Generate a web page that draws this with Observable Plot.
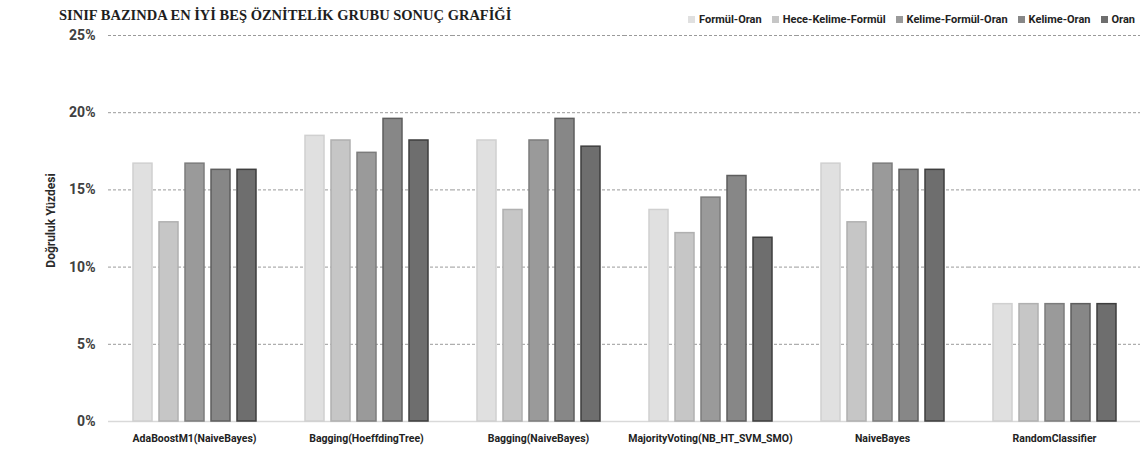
<!DOCTYPE html>
<html>
<head>
<meta charset="utf-8">
<script src="https://cdn.jsdelivr.net/npm/d3@7"></script>
<script src="https://cdn.jsdelivr.net/npm/@observablehq/plot@0.6"></script>
<style>
  body { margin: 0; background: #fff; }
  #chart { width: 1142px; height: 449px; position: relative; overflow: hidden; }
  #header { position: relative; height: 26px; }
  #title {
    position: absolute; left: 59px; top: 7px;
    font-family: "Liberation Serif", serif; font-weight: bold; font-size: 14.5px;
    color: #1e1e1e; white-space: nowrap;
  }
  #legend {
    position: absolute; right: 7px; top: 13px;
    display: flex; gap: 10px; white-space: nowrap;
    font-family: Roboto, sans-serif; font-weight: bold; font-size: 11px; color: #222;
  }
  #legend .item { display: flex; align-items: center; gap: 4px; }
  #legend .sw { width: 7px; height: 7px; display: inline-block; }
</style>
</head>
<body>
<div id="chart">
  <div id="header">
    <div id="title">SINIF BAZINDA EN İYİ BEŞ ÖZNİTELİK GRUBU SONUÇ GRAFİĞİ</div>
    <div id="legend"></div>
  </div>
</div>
<script>
// Classifiers on the horizontal axis
const models = [
  "AdaBoostM1(NaiveBayes)",
  "Bagging(HoeffdingTree)",
  "Bagging(NaiveBayes)",
  "MajorityVoting(NB_HT_SVM_SMO)",
  "NaiveBayes",
  "RandomClassifier"
];

// Feature groups (one bar per group inside each classifier)
const seriesNames = ["Formül-Oran", "Hece-Kelime-Formül", "Kelime-Formül-Oran", "Kelime-Oran", "Oran"];

// Accuracy (%) for each feature group, in the order of `models`
const formulOran       = [16.7, 18.5, 18.2, 13.7, 16.7, 7.6];
const heceKelimeFormul = [12.9, 18.2, 13.7, 12.2, 12.9, 7.6];
const kelimeFormulOran = [16.7, 17.4, 18.2, 14.5, 16.7, 7.6];
const kelimeOran       = [16.3, 19.6, 19.6, 15.9, 16.3, 7.6];
const oran             = [16.3, 18.2, 17.8, 11.9, 16.3, 7.6];

const yTicks = [0, 5, 10, 15, 20, 25];
const yLabel = "Doğruluk Yüzdesi";

const seriesValues = [formulOran, heceKelimeFormul, kelimeFormulOran, kelimeOran, oran];
const fills   = ["#e0e0e0", "#c6c6c6", "#9a9a9a", "#878787", "#6e6e6e"];
const strokes = ["#d0d0d0", "#b0b0b0", "#7c7c7c", "#5e5e5e", "#3e3e3e"];

const rows = seriesNames.flatMap((s, i) =>
  models.map((m, j) => ({model: m, series: s, value: seriesValues[i][j]}))
);

// Legend
const legend = document.getElementById("legend");
seriesNames.forEach((s, i) => {
  const item = document.createElement("span");
  item.className = "item";
  item.innerHTML = `<span class="sw" style="background:${fills[i]}"></span><span>${s}</span>`;
  legend.appendChild(item);
});

const chart = Plot.plot({
  width: 1142,
  height: 423,
  marginLeft: 108,
  marginRight: 2,
  marginTop: 9,
  marginBottom: 28,
  style: {background: "transparent", fontFamily: "Roboto, sans-serif", overflow: "visible"},
  fx: {domain: models, padding: 0, label: null},
  x: {domain: seriesNames, paddingInner: 0.28, paddingOuter: 0.91, axis: null},
  y: {domain: [0, 25], ticks: yTicks},
  marks: [
    Plot.gridY(yTicks.slice(1), {stroke: "#9a9a9a", strokeOpacity: 1, strokeDasharray: "3,2"}),
    Plot.ruleY([0], {stroke: "#d9d9d9", strokeWidth: 1.5}),
    ...seriesNames.map((s, i) =>
      Plot.barY(rows.filter(d => d.series === s), {
        fx: "model", x: "series", y: "value",
        fill: fills[i], stroke: strokes[i], strokeWidth: 1.5, inset: 0
      })
    ),
    Plot.axisY(yTicks, {
      tickSize: 0, tickPadding: 13, tickFormat: d => d + "%",
      fontSize: 14, fontWeight: "bold", fill: "#404040", label: null
    }),
    // y-axis title, drawn once in the left-most facet
    Plot.text([yLabel], {
      fx: () => models[0], text: d => d,
      frameAnchor: "left", textAnchor: "middle", rotate: -90, dx: -57, dy: -8,
      fontSize: 12, fontWeight: "bold", fill: "#2a2a2a"
    }),
    Plot.axisFx({
      anchor: "bottom", tickSize: 0, tickPadding: 13,
      fontSize: 10.5, fontWeight: "bold", fill: "#222", label: null
    })
  ]
});

document.getElementById("chart").appendChild(chart);
</script>
</body>
</html>
